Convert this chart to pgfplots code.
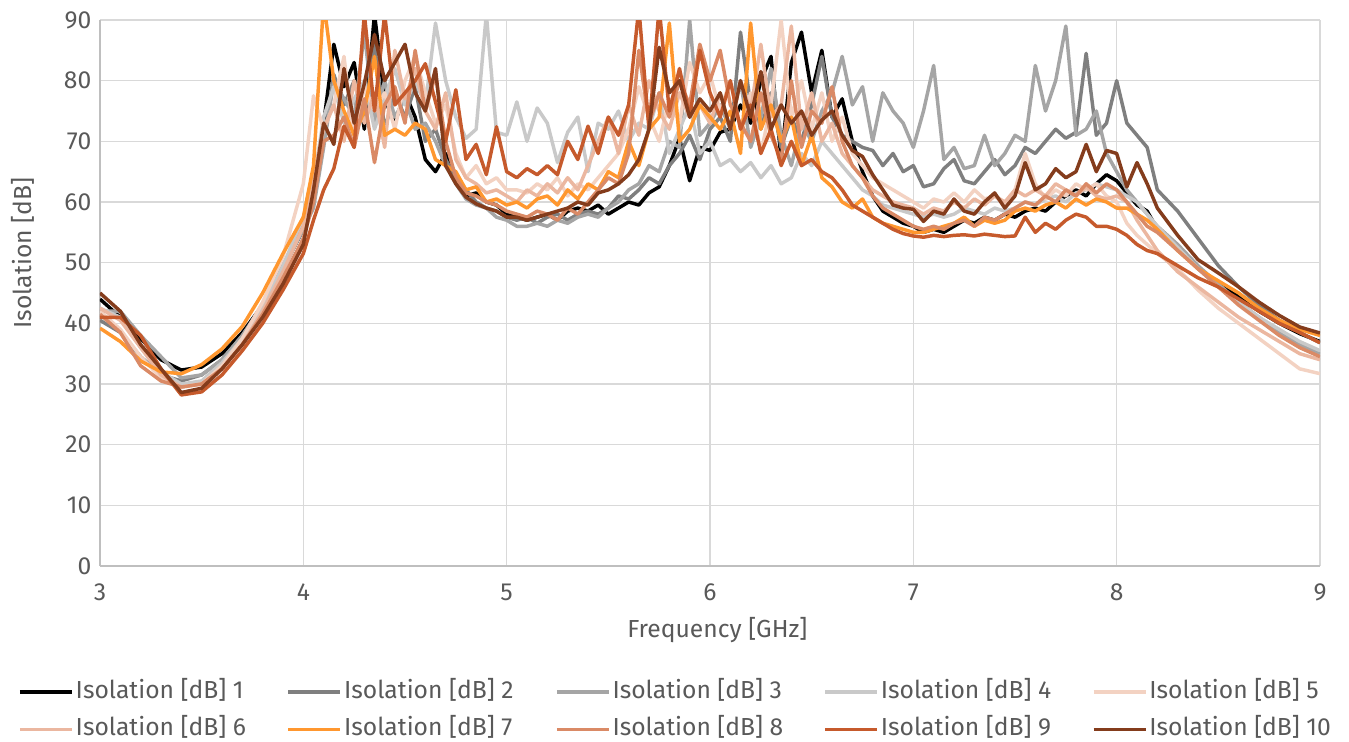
\documentclass[border=0pt]{standalone}
\usepackage{fontspec}
\setmainfont{Fira Sans}
\usepackage{pgfplots}
\usepackage{pgfplotstable}
\pgfplotsset{compat=1.18}

\definecolor{txt}{HTML}{595959}
\definecolor{gridc}{HTML}{D9D9D9}
\definecolor{axc}{HTML}{BFBFBF}
\definecolor{c1}{HTML}{000000}
\definecolor{c2}{HTML}{7F7F7F}
\definecolor{c3}{HTML}{A5A5A5}
\definecolor{c4}{HTML}{C9C9C9}
\definecolor{c5}{HTML}{F3D2C2}
\definecolor{c6}{HTML}{EBB7A0}
\definecolor{c7}{HTML}{FF972F}
\definecolor{c8}{HTML}{DA8A66}
\definecolor{c9}{HTML}{C65A2C}
\definecolor{c10}{HTML}{843C1C}

\pgfplotstableread{
x    a    b    c    d    e    f    g    h    i    j
3.0  44   40.5 42   42.5 42   42.5 39.2 41.5 41   45
3.1  41   38.5 42   41   39   40.5 37   38.5 41   42
3.2  37.5 34.5 38   36   34.5 36   33.8 33   38   36.5
3.3  34   31.5 34.5 32   31   31.5 32   30.5 32.5 32.5
3.4  32.3 30.5 31   30   29.5 29.5 31.7 29.5 28.2 28.6
3.5  32.8 31.5 31.5 30.5 30   30   33.2 30   28.7 29.3
3.6  35   34   34   33.5 33   32.5 35.8 32.5 31.5 32.5
3.7  38.5 38   38   37.5 37.5 36.5 39.5 36.5 35.5 36.5
3.8  43   43   43   42.5 43.5 42   45   41.5 40   41
3.9  49   49.5 49   49.5 51   48.5 51.5 47.5 45.5 46.5
4.0  55.5 56   55.5 57.5 63   56   57.5 54   51.5 53
4.05 62   60   59   63   77.5 64   66   60   57   62
4.10 73   70   69   74   72   72   93   70   62   73
4.15 86   81   80   79   76   76   80   71   65.5 69.5
4.20 79   76   77   73   84   70   75   74   72.5 82
4.25 83   80   74   77   70   80   71   69   69   73
4.30 72   74   88   80   79   73   75   77   91   79.5
4.35 91   86   73   72   75   78   84   66.5 75   87.6
4.40 77   72   80   77   78   69   71   76   91   80
4.45 73   78   74   82   72   85   72   79   76   83
4.50 78   74   77   76   80   77   71   73   78   86
4.55 74   79   72   80   84   82   73   85   80   78
4.60 67   70   73   76   78   75   72   75   82.8 75
4.65 65   72   70   89.5 73   72   67   81   76.5 82
4.70 68   67   66   80   76   78   66   70   70   66
4.75 64   64   63   74   68   67   65   64   78.5 63
4.80 61   62   60.5 70.5 64   64   62   61.5 67   60.8
4.85 61.5 60   59.5 72   66   63   62.5 61   69.5 59.7
4.90 60   59   59   91   63   61.5 60   60   64.5 59
4.95 59.5 58.5 57.5 71.5 64   62   60.5 59.5 72.4 58.5
5.00 58   57.5 57   71   62   61   59.5 58.5 65   57.5
5.05 57.5 57   56   76.5 62   60   60   58   64   57.5
5.10 57   57.5 56   70   61.5 62   59   57.5 65.5 57
5.15 57.5 56.5 56.5 75.5 63   61   60.5 58.5 64.5 57.5
5.20 58   57.5 56   73   62   63   61   58   66   58
5.25 57   58   57   66.5 64   61.5 59.5 57   64.5 58.5
5.30 58.5 57   56.5 71.5 61   64   62   59   70   59
5.35 59   58   57.5 74   63   62   60.5 58   67   60
5.40 58.5 58.5 58   65   62   66   63   60   72.5 59.5
5.45 59.5 58   57.5 73   64   70   62   62   68   61.5
5.50 58   59   59   72   66   74   65   64   74   62
5.55 59   61   60   75   68   68   64   63   71   63
5.60 60   60.5 62   70   72   76   70   68   76   64.5
5.65 59.5 62   63   73   79   71   66   85   92   67
5.70 61.5 64   66   72   74   80   72   73   72   72
5.75 62.5 63   65   78   70   75   74   78   92   85.5
5.80 66   66   70   68   77   72   89.5 74   75   78
5.85 70.5 68   69   72   73   78   70   80   82   80
5.90 63.5 71   90   76   83   74   72   76   74   74
5.95 69   67   71   68   78   76   76   86   85   77
6.00 68.5 72   73   70   81   73   74   80   78   75
6.05 71.5 74   76   66   75   78   72   85   74   78
6.10 72   70   72   67   80   72   75   76   80   72
6.15 76   88   80   65   72   80   68   73   72   80
6.20 73   76   69   66.5 78   75   89.5 70   76   74
6.25 80   72   74   64   68   86   72   78   68   81.5
6.30 84   78   82   66   76   74   76   71   72   72
6.35 67   69   71   63   90   76   70   67   66   76
6.40 83   74   66   64   74   89   74   80   70   73
6.45 88   70   73   68   80   72   66   69   66   75
6.50 78   76   70   66   72   78   71   75   67   71
6.55 85   84   75   70   78   70   64   73   65   73.5
6.60 74   74   78   68   70   73   62.5 79   64   75
6.65 77   71   84   66   74   68   60   70   62   71
6.70 70   70   76   64   68   66   59   66   59.5 68.5
6.75 65   69   79   62   66   64   60.5 64   58.5 67.5
6.80 61   68.5 70   61   64   62   57.5 61   57.5 64.5
6.85 58.5 66   78   59.5 63   61   56.5 59   56.5 62
6.90 57.5 68   75   59   62   60   56   58   55.5 59.5
6.95 56.5 65   73   58.5 61   59.5 55.5 57   54.8 59
7.00 56   66   69   58   60   59   55   56   54.4 58.8
7.05 55   62.5 75   57.5 59   58   55   55.5 54.2 56.8
7.10 55.5 63   82.5 58   60.5 59   55.5 56   54.5 58.5
7.15 55   65.5 67   57.5 60   58.5 56   55.5 54.3 58
7.20 56   67   69   58   61.5 60   56.5 56.5 54.5 60.5
7.25 57   63.5 65.5 59   60   59   57.5 57   54.6 58.5
7.30 56.5 63   66   58.5 62   60.5 56   56   54.4 58
7.35 57.5 65   71   58   60.5 59.5 57   57.5 54.7 60
7.40 57   67   66   59   61   61   56.5 57   54.5 61.5
7.45 58   64.5 68   58.5 59.5 60   57   58   54.3 59
7.50 57.5 66   71   59   62   62   58.5 59   54.4 61
7.55 58.5 69   70   60   68   61   59   60   57.5 66.5
7.60 59   68   82.5 59.5 63   62   58.5 59.5 55   62
7.65 58.5 70   75   60.5 60.5 61   59.5 61   56.5 63
7.70 60   72   80   61   62   63   60   60   55.5 65.5
7.75 61   70.5 89   60   61   62   59   62   57   64
7.80 62   71.5 71   61.5 63   61   60.5 61   58   65
7.85 61   84.5 72   62   62   62.5 59.5 63   57.5 69.5
7.90 63   71   75   63   63   61   60.5 61.5 56   65
7.95 64.5 73   68   62.5 61   60.5 60   63   56   68.5
8.00 63.5 80   65   62   60   61   59   62   55.5 68
8.05 61.5 73   62   61   56.5 60   59   60   54.5 62.5
8.10 59.5 71   60   60   54.5 57   58   58   53   66.5
8.15 58.5 69   58   58   53   54.5 57   56   52   63
8.20 55.5 62   56   56   51.5 52   55.5 55   51.5 59
8.3  52.5 58.5 53   52.5 49   48.5 52   52   49.5 54.5
8.4  49   54   49.5 49   45.5 46   49   49   47.5 50.5
8.5  46.5 49.5 46.5 46   42.5 43.5 47   46   46   48.3
8.6  44.5 46   43.5 43.5 40   41   45   43   44   46
8.7  42   43   41   41   37.5 39   42.5 40.5 42   43.5
8.8  40   40.5 38.5 39   35   37   40.5 38   40   41.3
8.9  38.3 38.5 36.5 37   32.5 35   39   36   38.5 39.4
9.0  37   36.8 35   35.5 31.7 34   38   34.5 36.8 38.4
}\isodata

\newcommand\lbox[1]{\makebox[158.2pt][l]{#1}}

\begin{document}
\begin{tikzpicture}
\begin{axis}[
    name=ax,
    at={(0,0)}, anchor=south west,
    scale only axis,
    width=915pt, height=409.5pt,
    xmin=3, xmax=9, ymin=0, ymax=90,
    xtick={3,4,...,9}, ytick={0,10,...,90},
    grid=major,
    grid style={gridc, line width=0.9pt},
    axis x line*=bottom, axis y line*=left,
    axis line style={axc, line width=0.9pt, -},
    major tick length=0pt,
    /pgf/number format/assume math mode=true,
    tick label style={font=\fontsize{18.5}{22}\selectfont, text=txt},
    xticklabel style={yshift=-10pt},
    yticklabel style={xshift=-3pt},
    label style={font=\fontsize{18.5}{22}\selectfont, text=txt},
    xlabel={Frequency [GHz]},
    ylabel={Isolation [dB]},
    xlabel style={at={(axis description cs:0.506,-0.1172)}, anchor=center},
    ylabel style={at={(axis description cs:-0.0631,0.573)}, anchor=center},
    every axis plot/.append style={line width=2.6pt, line join=round, no markers},
    legend columns=5,
    legend cell align=left,
    legend image code/.code={\draw[#1] (0pt,0pt) -- (39pt,0pt);},
    legend style={
        at={(axis description cs:-0.0705,-0.2058)}, anchor=north west,
        draw=none, fill=none,
        font=\fontsize{18.5}{22}\selectfont, text=txt,
        nodes={inner sep=0pt, text height=13pt, text depth=3pt},
        row sep=12pt,
        /tikz/every odd column/.append style={column sep=1.5pt},
        /tikz/every even column/.append style={column sep=0pt},
    },
]
\addplot[c1]  table[x=x, y=a] {\isodata};
\addplot[c2]  table[x=x, y=b] {\isodata};
\addplot[c3]  table[x=x, y=c] {\isodata};
\addplot[c4]  table[x=x, y=d] {\isodata};
\addplot[c5]  table[x=x, y=e] {\isodata};
\addplot[c6]  table[x=x, y=f] {\isodata};
\addplot[c7]  table[x=x, y=g] {\isodata};
\addplot[c8]  table[x=x, y=h] {\isodata};
\addplot[c9]  table[x=x, y=i] {\isodata};
\addplot[c10] table[x=x, y=j] {\isodata};
\legend{\lbox{Isolation [dB] 1}, \lbox{Isolation [dB] 2}, \lbox{Isolation [dB] 3},
        \lbox{Isolation [dB] 4}, \lbox{Isolation [dB] 5}, \lbox{Isolation [dB] 6},
        \lbox{Isolation [dB] 7}, \lbox{Isolation [dB] 8}, \lbox{Isolation [dB] 9},
        \lbox{Isolation [dB] 10}}
\end{axis}
\pgfresetboundingbox
\path[use as bounding box] (-75pt,-132pt) rectangle (936.75pt,424.5pt);
\end{tikzpicture}
\end{document}
